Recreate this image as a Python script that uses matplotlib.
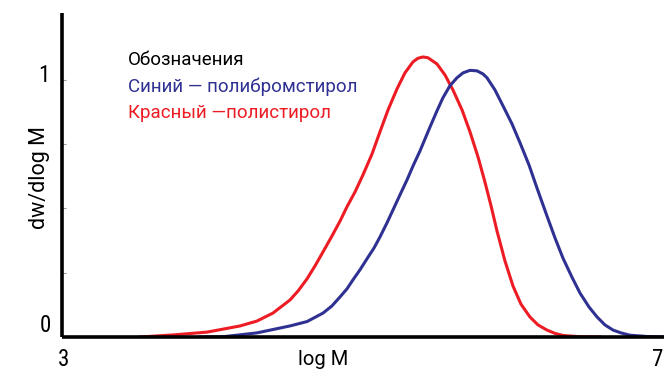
import matplotlib
matplotlib.use("Agg")
import matplotlib.pyplot as plt

# polystyrene (red): log M vs dw/dlog M
red_x = [3.52, 3.742, 3.970, 4.191, 4.304, 4.411, 4.525, 4.579, 4.639, 4.692,
         4.746, 4.806, 4.860, 4.906, 4.960, 5.013, 5.074, 5.127, 5.181, 5.241,
         5.294, 5.348, 5.381, 5.415, 5.448, 5.508, 5.562, 5.615, 5.676, 5.729,
         5.783, 5.829, 5.870, 5.910, 5.963, 6.017, 6.070, 6.130, 6.184, 6.244,
         6.298, 6.351, 6.465, 6.599]
red_y = [0.0, 0.008, 0.019, 0.043, 0.062, 0.093, 0.144, 0.179, 0.226, 0.276,
         0.331, 0.393, 0.451, 0.506, 0.564, 0.630, 0.712, 0.798, 0.883, 0.965,
         1.027, 1.070, 1.084, 1.089, 1.086, 1.062, 1.019, 0.961, 0.883, 0.798,
         0.700, 0.603, 0.510, 0.412, 0.296, 0.198, 0.128, 0.078, 0.047, 0.027,
         0.014, 0.006, 0.001, 0.0]

# polybromostyrene (blue)
blue_x = [3.923, 4.077, 4.304, 4.525, 4.639, 4.746, 4.806, 4.860, 4.906, 4.946,
          4.993, 5.040, 5.087, 5.127, 5.174, 5.214, 5.261, 5.308, 5.348, 5.395,
          5.428, 5.462, 5.508, 5.548, 5.595, 5.642, 5.682, 5.729, 5.776, 5.816,
          5.843, 5.896, 5.950, 6.010, 6.064, 6.124, 6.177, 6.244, 6.298, 6.351,
          6.411, 6.465, 6.525, 6.579, 6.632, 6.686, 6.739, 6.799, 6.913, 7.027]
blue_y = [0.0, 0.001, 0.016, 0.043, 0.060, 0.093, 0.121, 0.156, 0.187, 0.222,
          0.261, 0.304, 0.346, 0.389, 0.444, 0.494, 0.553, 0.611, 0.665, 0.724,
          0.770, 0.817, 0.879, 0.930, 0.977, 1.008, 1.027, 1.037, 1.035, 1.023,
          1.008, 0.961, 0.899, 0.829, 0.755, 0.669, 0.580, 0.471, 0.385, 0.307,
          0.233, 0.171, 0.117, 0.078, 0.047, 0.027, 0.016, 0.007, 0.002, 0.0]

legend_title = "Обозначения"
legend_lines = ["Синий — полибромстирол", "Красный —полистирол"]

RED = "#ed1c24"
BLUE = "#2e3192"
plt.rcParams["font.family"] = ["Roboto", "DejaVu Sans"]
NUM_FONT = ["Roboto Condensed", "Roboto", "DejaVu Sans"]

fig = plt.figure(figsize=(6.64, 3.71), dpi=100)
ax = fig.add_axes([62 / 664, 34 / 371, 602 / 664, 324 / 371])
ax.set_xlim(3, 7.027)
ax.set_ylim(0, 1.26)

ax.plot(red_x, red_y, color=RED, lw=2.2, solid_joinstyle="round")
ax.plot(blue_x, blue_y, color=BLUE, lw=2.2, solid_joinstyle="round")

for s in ["top", "right"]:
    ax.spines[s].set_visible(False)
for s in ["left", "bottom"]:
    ax.spines[s].set_linewidth(2.6)
    ax.spines[s].set_capstyle("butt")

ax.set_xticks([])
ax.set_yticks([0.25, 0.5, 0.75, 1.0])
ax.tick_params(axis="y", direction="in", length=3, width=0.8, color="#999999",
               labelleft=False)

# axis texts
ytr = ax.get_yaxis_transform()
ax.text(-0.028, 0.02, "0", fontsize=16.5, ha="center", va="baseline",
        transform=ytr, family=NUM_FONT)
ax.text(-0.030, 0.992, "1", fontsize=16.5, ha="center", va="baseline",
        transform=ytr, family=NUM_FONT)
ax.text(-0.038, 0.62, "dw/dlog M", fontsize=15.5, ha="center", va="center",
        rotation=90, transform=ytr)
ax.text(3.01, -0.114, "3", fontsize=16.5, ha="center", va="baseline", family=NUM_FONT)
ax.text(6.985, -0.114, "7", fontsize=16.5, ha="center", va="baseline", family=NUM_FONT)
ax.text(4.745, -0.109, "log M", fontsize=14.5, ha="center", va="baseline")

# legend block
ax.text(3.441, 1.058, legend_title, fontsize=13.5, color="black", va="baseline")
ax.text(3.441, 0.954, legend_lines[0], fontsize=13.5, color=BLUE, va="baseline")
ax.text(3.441, 0.851, legend_lines[1], fontsize=13.5, color=RED, va="baseline")

fig.savefig("out.png", dpi=100)
